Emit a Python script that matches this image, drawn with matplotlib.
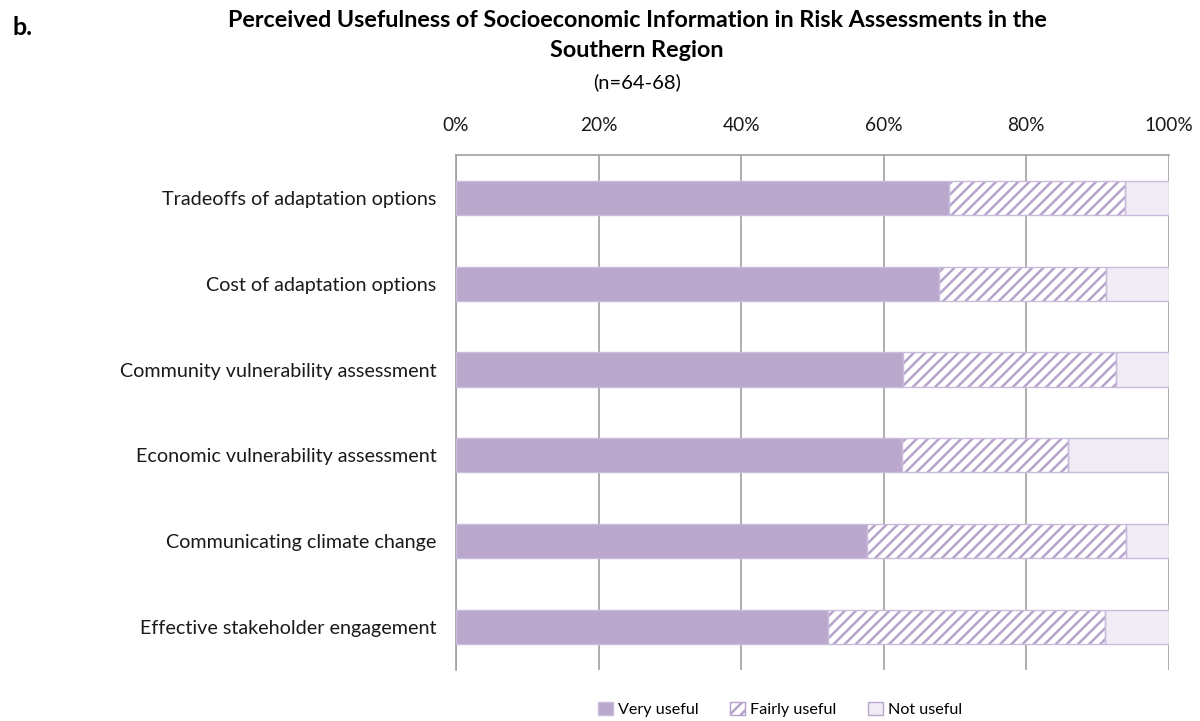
import matplotlib
matplotlib.use('Agg')
import matplotlib.pyplot as plt
from matplotlib.patches import Patch
import numpy as np

# Dados (percentuais por categoria)
categories = ['Tradeoffs of adaptation options',
              'Cost of adaptation options',
              'Community vulnerability assessment',
              'Economic vulnerability assessment',
              'Communicating climate change',
              'Effective stakeholder engagement']
very_useful = [69.2, 67.7, 62.7, 62.5, 57.6, 52.2]
fairly_useful = [24.6, 23.5, 29.9, 23.4, 36.4, 38.8]
not_useful = [6.2, 8.8, 7.4, 14.1, 6.0, 9.0]
series_labels = ['Very useful', 'Fairly useful', 'Not useful']
x_ticks = [0, 20, 40, 60, 80, 100]

plt.rcParams['font.family'] = ['Lato', 'DejaVu Sans']
plt.rcParams['hatch.linewidth'] = 1.8
plt.rcParams['hatch.color'] = '#B6A3CC'

c_very = '#B9A8CC'
c_edge = '#C9BBDB'
c_not = '#F0ECF5'

fig = plt.figure(figsize=(12, 7.21), dpi=100)
ax = fig.add_axes([0.38, 0.071, 0.594, 0.714])

y = np.arange(len(categories))
h = 0.4
vu = np.array(very_useful)
fu = np.array(fairly_useful)
nu = np.array(not_useful)

ax.barh(y, vu, height=h, color=c_very, edgecolor=c_edge, linewidth=1, zorder=3)
ax.barh(y, fu, left=vu, height=h, color='white', edgecolor='#B6A3CC',
        hatch='///', linewidth=0, zorder=3)
ax.barh(y, fu, left=vu, height=h, color='none', edgecolor=c_edge, linewidth=1, zorder=4)
ax.barh(y, nu, left=vu + fu, height=h, color=c_not, edgecolor=c_edge, linewidth=1, zorder=3)

ax.set_xlim(0, 100)
ax.set_ylim(len(categories) - 0.5, -0.5)
ax.set_yticks(y)
ax.set_yticklabels(categories, fontsize=14.2, color='#1a1a1a')
ax.set_xticks(x_ticks)
ax.set_xticklabels([f'{t}%' for t in x_ticks], fontsize=13.8, color='#1a1a1a')
ax.xaxis.tick_top()
ax.tick_params(axis='y', length=0, pad=14)
ax.tick_params(axis='x', length=0, pad=15)

ax.grid(axis='x', color='#A0A0A0', linewidth=1.2, zorder=0)
for s in ['bottom', 'right']:
    ax.spines[s].set_visible(False)
for s in ['top', 'left']:
    ax.spines[s].set_color('#A0A0A0')
    ax.spines[s].set_linewidth(1.2)

# Títulos
fig.text(0.531, 0.972, 'Perceived Usefulness of Socioeconomic Information in Risk Assessments in the',
         ha='center', va='center', fontsize=16.8, fontweight='bold')
fig.text(0.531, 0.930, 'Southern Region', ha='center', va='center', fontsize=16.8, fontweight='bold')
fig.text(0.531, 0.886, '(n=64-68)', ha='center', va='center', fontsize=14.5)
fig.text(0.01, 0.962, 'b.', ha='left', va='center', fontsize=18, fontweight='bold')

handles = [Patch(facecolor=c_very, edgecolor=c_edge),
           Patch(facecolor='white', edgecolor='#B6A3CC', hatch='///'),
           Patch(facecolor=c_not, edgecolor='#B9A8CC')]
fig.legend(handles, series_labels, loc='center', bbox_to_anchor=(0.65, 0.016),
           ncol=3, frameon=False, fontsize=11.6, handlelength=0.9, handleheight=0.9,
           handletextpad=0.3, columnspacing=2.0)

plt.savefig('out.png', dpi=100)
plt.close()
